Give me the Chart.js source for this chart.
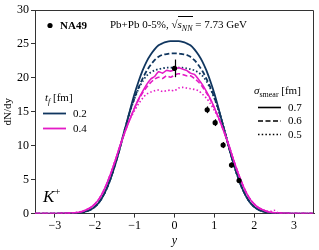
<!DOCTYPE html>
<html>
<head>
<meta charset="utf-8">
<script src="https://cdn.jsdelivr.net/npm/chart.js@4.4.0/dist/chart.umd.min.js"></script>
<style>
html, body { margin: 0; padding: 0; background: #fff; }
#caixa { position: relative; width: 319px; height: 250px; font-family: 'Liberation Serif', serif; color: #000; }
.txt { position: absolute; white-space: nowrap; font-size: 11px; line-height: 11px; }
.txt sub { font-size: 8px; line-height: 0; vertical-align: -3px; }
.txt sup { font-size: 11px; line-height: 0; vertical-align: 7px; }
</style>
</head>
<body>
<div id="caixa">
<canvas id="espectro_kmais" width="319" height="250"></canvas>
<div class="txt" style="left:60px;top:20px;font-weight:bold">NA49</div>
<div class="txt" style="left:110px;top:19px">Pb+Pb 0-5%, √<span style="border-top:1px solid #000;padding-top:1px"><i>s</i><sub><i>NN</i></sub></span> = 7.73 GeV</div>
<div class="txt" style="left:45px;top:92px"><i>t</i><sub><i>f</i></sub> [fm]</div>
<div class="txt" style="left:73px;top:108px">0.2</div>
<div class="txt" style="left:73px;top:123px">0.4</div>
<div class="txt" style="left:254px;top:85px"><i>σ</i><sub>smear</sub> [fm]</div>
<div class="txt" style="left:288px;top:102px">0.7</div>
<div class="txt" style="left:288px;top:115px">0.6</div>
<div class="txt" style="left:288px;top:129px">0.5</div>
<div class="txt" style="left:43px;top:188px;font-size:17px;line-height:17px"><i>K</i><sup>+</sup></div>
</div>
<script>
// rapidez
const rapidez = [-3.5, -3.0, -2.8, -2.6, -2.5, -2.4, -2.3, -2.2, -2.1, -2.0, -1.9, -1.8, -1.7, -1.6, -1.5, -1.4, -1.3, -1.2, -1.1, -1.0,
    -0.9, -0.8, -0.7, -0.6, -0.5, -0.4, -0.3, -0.2, -0.1, 0, 0.1, 0.2, 0.3, 0.4, 0.5, 0.6, 0.7, 0.8, 0.9,
    1.0, 1.1, 1.2, 1.3, 1.4, 1.5, 1.6, 1.7, 1.8, 1.9, 2.0, 2.1, 2.2, 2.3, 2.4, 2.5, 2.6, 2.8, 3.0, 3.5]

// t_f = 0.2 fm
const tf02_s07 = [0, 0, 0.02, 0.05, 0.08, 0.12, 0.2, 0.35, 0.6, 1.0, 1.6, 2.5, 3.7, 5.2, 7.0, 9.0, 11.2, 13.4, 15.6, 17.7,
    19.5, 21.1, 22.4, 23.4, 24.2, 24.8, 25.1, 25.3, 25.4, 25.4, 25.4, 25.3, 25.1, 24.8, 24.2, 23.4, 22.4, 21.1, 19.5,
    17.7, 15.6, 13.4, 11.2, 9.0, 7.0, 5.2, 3.7, 2.5, 1.6, 1.0, 0.6, 0.35, 0.2, 0.12, 0.08, 0.05, 0.02, 0, 0]
const tf02_s06 = [0, 0, 0.02, 0.05, 0.08, 0.12, 0.2, 0.35, 0.6, 1.0, 1.6, 2.5, 3.7, 5.2, 7.0, 9.0, 11.2, 13.4, 15.4, 17.1,
    18.6, 19.9, 21.0, 21.9, 22.6, 23.1, 23.4, 23.5, 23.6, 23.6, 23.6, 23.5, 23.4, 23.1, 22.6, 21.9, 21.0, 19.9, 18.6,
    17.1, 15.4, 13.4, 11.2, 9.0, 7.0, 5.2, 3.7, 2.5, 1.6, 1.0, 0.6, 0.35, 0.2, 0.12, 0.08, 0.05, 0.02, 0, 0]
const tf02_s05 = [0, 0, 0.02, 0.05, 0.08, 0.12, 0.2, 0.35, 0.6, 1.0, 1.6, 2.5, 3.7, 5.2, 7.0, 9.1, 11.3, 13.4, 15.3, 17.0,
    18.4, 19.5, 20.3, 20.8, 21.1, 21.3, 21.4, 21.5, 21.5, 21.5, 21.5, 21.5, 21.4, 21.3, 21.1, 20.8, 20.3, 19.5, 18.4,
    17.0, 15.3, 13.4, 11.3, 9.1, 7.0, 5.2, 3.7, 2.5, 1.6, 1.0, 0.6, 0.35, 0.2, 0.12, 0.08, 0.05, 0.02, 0, 0]

// t_f = 0.4 fm
const tf04_s07 = [0, 0, 0.03, 0.08, 0.12, 0.2, 0.35, 0.6, 0.9, 1.4, 2.1, 3.1, 4.4, 5.9, 7.6, 9.4, 11.1, 12.7, 14.2, 15.6,
    16.9, 18.0, 19.0, 19.8, 20.2, 20.9, 20.7, 21.1, 21.0, 21.2, 21.5, 21.3, 21.1, 20.7, 20.5, 19.8, 19.0, 18.0, 16.9,
    15.6, 14.2, 12.7, 11.1, 9.4, 7.6, 5.9, 4.4, 3.1, 2.1, 1.4, 0.9, 0.6, 0.35, 0.2, 0.12, 0.08, 0.03, 0, 0]
const tf04_s06 = [0, 0, 0.03, 0.08, 0.12, 0.2, 0.35, 0.6, 0.9, 1.4, 2.1, 3.1, 4.4, 5.9, 7.6, 9.4, 11.1, 12.7, 14.2, 15.6,
    16.8, 17.8, 18.6, 19.3, 19.8, 20.1, 19.9, 20.3, 20.1, 20.4, 20.6, 20.5, 20.3, 20.3, 19.9, 19.4, 18.7, 17.8, 16.8,
    15.6, 14.2, 12.7, 11.1, 9.4, 7.6, 5.9, 4.4, 3.1, 2.1, 1.4, 0.9, 0.6, 0.35, 0.2, 0.12, 0.08, 0.03, 0, 0]
const tf04_s05 = [0, 0, 0.03, 0.08, 0.15, 0.22, 0.38, 0.6, 0.95, 1.4, 2.1, 3.1, 4.4, 5.9, 7.6, 9.4, 11.2, 12.8, 14.1, 15.2,
    16.2, 17.0, 17.6, 17.9, 18.1, 18.2, 18.0, 18.1, 18.2, 18.1, 18.5, 18.6, 18.5, 18.4, 18.3, 18.1, 17.6, 17.0, 16.2,
    15.2, 14.1, 12.8, 11.2, 9.4, 7.6, 5.9, 4.4, 3.1, 2.1, 1.4, 0.9, 0.6, 0.4, 0.3, 0.5, 0.1, 0.03, 0, 0]

// dados NA49
const na49_y = [0, 0.82, 1.02, 1.22, 1.43, 1.62]
const na49_dndy = [21.4, 15.3, 13.4, 10.1, 7.15, 4.86]
const na49_erro = [1.3, 0.5, 0.5, 0.45, 0.4, 0.35]

const ticks_x = [-3, -2, -1, 0, 1, 2, 3]
const ticks_y = [0, 5, 10, 15, 20, 25, 30]

const cor_02 = '#10365f'
const cor_04 = '#e41bc6'
const fonte = 'Liberation Serif'

function monta_curva(valores){
    return rapidez.map((x, i) => ({x: x, y: valores[i]}))
}

function curva(label, valores, cor, tracejado, largura){
    return {
        label: label,
        data: monta_curva(valores),
        showLine: true,
        borderColor: cor,
        backgroundColor: cor,
        borderWidth: largura,
        borderDash: tracejado,
        pointRadius: 0,
        tension: 0.3,
        fill: false
    }
}

const moldura = {
    id: 'moldura',
    afterDraw(chart){
        const a = chart.chartArea
        const ctx = chart.ctx
        ctx.save()
        ctx.strokeStyle = '#333'
        ctx.lineWidth = 1
        ctx.beginPath()
        ctx.moveTo(a.left, a.top + 0.5)
        ctx.lineTo(a.right - 0.5, a.top + 0.5)
        ctx.lineTo(a.right - 0.5, a.bottom)
        ctx.stroke()
        ctx.restore()
    }
}

const barras_erro = {
    id: 'barras_erro',
    afterDatasetsDraw(chart){
        const ctx = chart.ctx
        const sx = chart.scales.x
        const sy = chart.scales.y
        ctx.save()
        ctx.strokeStyle = '#000'
        ctx.lineWidth = 1.2
        for(let i = 0; i < na49_y.length; i++){
            const px = Math.round(sx.getPixelForValue(na49_y[i])) + 0.5
            ctx.beginPath()
            ctx.moveTo(px, sy.getPixelForValue(na49_dndy[i] - na49_erro[i]))
            ctx.lineTo(px, sy.getPixelForValue(na49_dndy[i] + na49_erro[i]))
            ctx.stroke()
        }
        ctx.restore()
    }
}

// amostras de linha das legendas
const legenda_linhas = {
    id: 'legenda_linhas',
    afterDraw(chart){
        const ctx = chart.ctx
        const amostras = [
            [43, 66, 113.5, cor_02, [], 1.8],
            [43, 66, 128.5, cor_04, [], 1.8],
            [258, 281, 107.5, '#000', [], 1.6],
            [258, 281, 121, '#000', [5, 2.5], 1.6],
            [258, 281, 134.5, '#000', [1.5, 2.2], 1.6]
        ]
        ctx.save()
        amostras.forEach(a => {
            ctx.beginPath()
            ctx.strokeStyle = a[3]
            ctx.setLineDash(a[4])
            ctx.lineWidth = a[5]
            ctx.moveTo(a[0], a[2])
            ctx.lineTo(a[1], a[2])
            ctx.stroke()
        })
        ctx.setLineDash([])
        ctx.fillStyle = '#000'
        ctx.beginPath()
        ctx.arc(50, 25.5, 2.6, 0, Math.PI * 2)
        ctx.fill()
        ctx.restore()
    }
}

const ctx = document.getElementById('espectro_kmais').getContext('2d')
const grafico = new Chart(ctx, {
    type: 'scatter',
    data: {
        datasets: [
            {
                label: 'NA49',
                data: na49_y.map((x, i) => ({x: x, y: na49_dndy[i]})),
                showLine: false,
                pointRadius: 2.6,
                pointBackgroundColor: '#000',
                pointBorderWidth: 0,
                borderColor: '#000'
            },
            curva('0.4 / 0.5', tf04_s05, cor_04, [1.5, 2.2], 1.6),
            curva('0.4 / 0.6', tf04_s06, cor_04, [5, 2.5], 1.6),
            curva('0.4 / 0.7', tf04_s07, cor_04, [], 1.6),
            curva('0.2 / 0.5', tf02_s05, cor_02, [1.5, 2.2], 1.8),
            curva('0.2 / 0.6', tf02_s06, cor_02, [5, 2.5], 1.8),
            curva('0.2 / 0.7', tf02_s07, cor_02, [], 1.8)
        ]
    },
    options: {
        responsive: false,
        animation: false,
        layout: {
            padding: {top: 10, right: 5, left: 0, bottom: 3}
        },
        plugins: {
            legend: {display: false},
            tooltip: {enabled: false}
        },
        scales: {
            x: {
                type: 'linear',
                min: -3.5,
                max: 3.5,
                afterBuildTicks: s => { s.ticks = ticks_x.map(v => ({value: v})) },
                grid: {drawOnChartArea: false, tickLength: 4, color: '#333'},
                border: {color: '#333', width: 1},
                ticks: {
                    color: '#000', padding: 1, maxRotation: 0,
                    font: {family: fonte, size: 12},
                    callback: v => v < 0 ? '\u2212' + Math.abs(v) : '' + v
                },
                title: {
                    display: true, text: 'y', color: '#000',
                    font: {family: fonte, size: 12, style: 'italic', lineHeight: 1},
                    padding: {top: 1, bottom: 0}
                }
            },
            y: {
                type: 'linear',
                min: 0,
                max: 30,
                afterBuildTicks: s => { s.ticks = ticks_y.map(v => ({value: v})) },
                grid: {drawOnChartArea: false, tickLength: 4, color: '#333'},
                border: {color: '#333', width: 1},
                ticks: {
                    color: '#000', padding: 2,
                    font: {family: fonte, size: 12}
                },
                title: {
                    display: true, text: 'dN/dy', color: '#000',
                    font: {family: fonte, size: 11, lineHeight: 1},
                    padding: {top: 3, bottom: 1}
                }
            }
        }
    },
    plugins: [moldura, barras_erro, legenda_linhas]
});
</script>
</body>
</html>
